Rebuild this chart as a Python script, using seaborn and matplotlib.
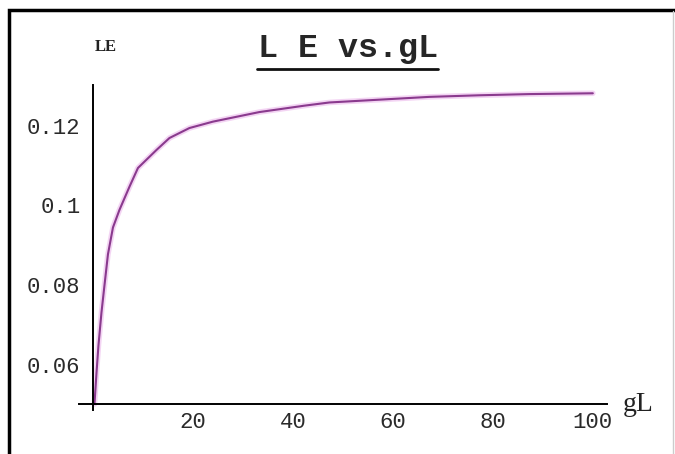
import numpy as np
import pandas as pd
import seaborn as sns
import matplotlib
matplotlib.use("Agg")
import matplotlib.pyplot as plt
from matplotlib.lines import Line2D
from matplotlib.patches import Rectangle

# values
gl = [0.3, 0.7, 1.1, 1.7, 2.3, 3.0, 4.0, 5.3, 7.3, 9.0, 12.7, 15.3, 19.3,
      24.0, 33.3, 42.3, 47.3, 57.3, 67.3, 77.3, 87.3, 100.0]
le = [0.0503, 0.0580, 0.0650, 0.0732, 0.0800, 0.0878, 0.0945, 0.0989, 0.1047,
      0.1094, 0.1139, 0.1169, 0.1194, 0.1210, 0.1234, 0.1250, 0.1258, 0.1265,
      0.1272, 0.1276, 0.1279, 0.1281]
xticks = [20, 40, 60, 80, 100]
yticks = [0.06, 0.08, 0.10, 0.12]
ytick_labels = ["0.06", "0.08", "0.1", "0.12"]

df = pd.DataFrame({"gL": gl, "LE": le})

sns.set_style("white")
plt.rcParams["font.family"] = ["Liberation Mono", "DejaVu Sans"]

fig = plt.figure(figsize=(6.75, 4.54), dpi=100)
ax = fig.add_axes([0.117, 0.097, 0.782, 0.716])

# soft halo + purple core, like the jpeg'd Mathematica line
sns.lineplot(data=df, x="gL", y="LE", ax=ax, color="#efc3ef", lw=4.0,
             sort=False, estimator=None, alpha=0.7)
sns.lineplot(data=df, x="gL", y="LE", ax=ax, color="#8a3a8e", lw=1.5,
             sort=False, estimator=None)

ax.set_xlim(-2.8, 102.8)
ax.set_ylim(0.0488, 0.1302)
ax.spines["left"].set_position(("data", 0))
ax.spines["bottom"].set_position(("data", 0.0503))
ax.spines["top"].set_visible(False)
ax.spines["right"].set_visible(False)
for s in ("left", "bottom"):
    ax.spines[s].set_color("black")
    ax.spines[s].set_linewidth(1.4)

ax.set_xticks(xticks)
ax.set_xticklabels([str(t) for t in xticks])
ax.set_yticks(yticks)
ax.set_yticklabels(ytick_labels)
ax.tick_params(axis="both", direction="in", length=4, width=1.2,
               labelsize=16, colors="black")
ax.tick_params(axis="x", pad=6)
ax.tick_params(axis="y", pad=9)
for lab in ax.get_xticklabels() + ax.get_yticklabels():
    lab.set_color("#2a2a2a")
ax.set_xlabel("")
ax.set_ylabel("")

fig.text(0.156, 0.896, "LE", fontsize=12, fontweight="bold",
         family="Liberation Serif", ha="center", va="center", color="#222222")
fig.text(0.516, 0.893, "L E vs.gL", fontsize=24, fontweight="bold",
         ha="center", va="center", color="#262626")
fig.add_artist(Line2D([0.381, 0.649], [0.847, 0.847], color="#111111", lw=2.0))
fig.text(0.922, 0.108, "gL", fontsize=20, family="Liberation Serif",
         ha="left", va="center", color="#222222")

# black frame around the picture (top/left edges visible)
fig.add_artist(Rectangle((0.013, -0.05), 1.5, 1.027, transform=fig.transFigure,
                         fill=False, edgecolor="black", lw=2.5))
fig.add_artist(Line2D([0.997, 0.997], [0.0, 0.976], color="#cccccc", lw=1.0))

fig.savefig("out.png", dpi=100)
